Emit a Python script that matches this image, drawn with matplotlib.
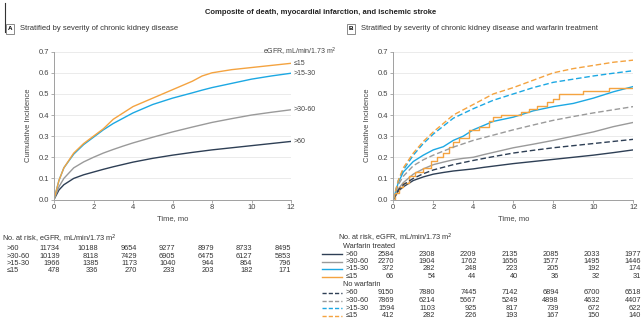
import matplotlib
matplotlib.use("Agg")
import matplotlib.pyplot as plt
from matplotlib.lines import Line2D
from matplotlib.transforms import blended_transform_factory

plt.rcParams['font.family'] = ['Liberation Sans', 'DejaVu Sans']

W, H = 642, 327

# colours per eGFR group
NAVY = "#2e3f55"
GRAY = "#9a9a9a"
BLUE = "#1ca8e3"
ORANGE = "#f4a340"

groups = [">60", ">30-60", ">15-30", "\u226415"]
group_colors = [NAVY, GRAY, BLUE, ORANGE]
risk_times = [0, 2, 4, 6, 8, 10, 12]

# Panel A curves (time in months, cumulative incidence)
a_t = [0, 0.25, 0.5, 1, 1.5, 2, 2.5, 3, 3.5, 4, 5, 6, 7, 7.5, 8, 9, 10, 11, 12]
a_gt60 = [0, 0.045, 0.07, 0.10, 0.117, 0.13, 0.143, 0.155, 0.166, 0.177, 0.195, 0.21, 0.223, 0.229, 0.235, 0.245, 0.255, 0.265, 0.275]
a_30_60 = [0, 0.06, 0.10, 0.15, 0.178, 0.20, 0.22, 0.237, 0.253, 0.268, 0.295, 0.32, 0.343, 0.354, 0.365, 0.383, 0.40, 0.413, 0.425]
a_15_30 = [0, 0.09, 0.15, 0.215, 0.26, 0.295, 0.33, 0.36, 0.385, 0.41, 0.45, 0.48, 0.505, 0.518, 0.53, 0.55, 0.57, 0.585, 0.598]
a_le15 = [0, 0.09, 0.15, 0.22, 0.265, 0.30, 0.335, 0.38, 0.41, 0.44, 0.48, 0.52, 0.56, 0.585, 0.60, 0.615, 0.625, 0.635, 0.645]

# Panel B curves, warfarin treated (solid)
b_t = [0, 0.25, 0.5, 1, 1.5, 2, 2.5, 3, 3.5, 4, 4.5, 5, 6, 7, 8, 9, 10, 11, 12]
bw_gt60 = [0, 0.04, 0.06, 0.09, 0.107, 0.12, 0.128, 0.135, 0.14, 0.145, 0.152, 0.158, 0.17, 0.18, 0.19, 0.20, 0.21, 0.222, 0.235]
bw_30_60 = [0, 0.05, 0.08, 0.12, 0.145, 0.165, 0.177, 0.188, 0.195, 0.20, 0.212, 0.223, 0.245, 0.262, 0.28, 0.30, 0.32, 0.345, 0.365]
bw_15_30 = [0, 0.08, 0.13, 0.18, 0.21, 0.235, 0.25, 0.28, 0.30, 0.33, 0.35, 0.37, 0.39, 0.42, 0.44, 0.455, 0.48, 0.51, 0.535]
# ≤15 warfarin treated: few patients, stepwise
bw_le15_t = [0, 0.1, 0.3, 0.5, 0.8, 1.1, 1.5, 1.9, 2.2, 2.5, 2.8, 3.0, 3.3, 3.8, 4.3, 4.8, 5.0, 5.4, 6.4, 6.8, 7.2, 7.7, 8.0, 8.3, 9.5, 10.8, 12]
bw_le15 = [0, 0.03, 0.06, 0.08, 0.11, 0.13, 0.15, 0.18, 0.20, 0.22, 0.25, 0.27, 0.29, 0.33, 0.345, 0.37, 0.39, 0.40, 0.415, 0.43, 0.445, 0.46, 0.475, 0.50, 0.515, 0.53, 0.53]

# Panel B curves, no warfarin (dashed)
bn_t = [0, 0.25, 0.5, 1, 1.5, 2, 3, 4, 5, 6, 7, 8, 9, 10, 11, 12]
bn_gt60 = [0, 0.045, 0.07, 0.10, 0.122, 0.14, 0.165, 0.185, 0.203, 0.22, 0.233, 0.245, 0.255, 0.265, 0.275, 0.285]
bn_30_60 = [0, 0.07, 0.11, 0.16, 0.188, 0.21, 0.248, 0.28, 0.305, 0.33, 0.353, 0.375, 0.393, 0.41, 0.425, 0.44]
bn_15_30 = [0, 0.09, 0.14, 0.21, 0.265, 0.31, 0.385, 0.43, 0.47, 0.50, 0.53, 0.555, 0.57, 0.585, 0.598, 0.61]
bn_le15 = [0, 0.09, 0.15, 0.22, 0.275, 0.32, 0.40, 0.45, 0.50, 0.53, 0.565, 0.60, 0.62, 0.635, 0.65, 0.66]

# numbers at risk
risk_a = [
    [11734, 10188, 9654, 9277, 8979, 8733, 8495],
    [10139, 8118, 7429, 6905, 6475, 6127, 5853],
    [1966, 1385, 1173, 1040, 944, 864, 796],
    [478, 336, 270, 233, 203, 182, 171],
]
risk_b_warf = [
    [2584, 2308, 2209, 2135, 2085, 2033, 1977],
    [2270, 1904, 1762, 1656, 1577, 1495, 1446],
    [372, 282, 248, 223, 205, 192, 174],
    [66, 54, 44, 40, 36, 32, 31],
]
risk_b_none = [
    [9150, 7880, 7445, 7142, 6894, 6700, 6518],
    [7869, 6214, 5667, 5249, 4898, 4632, 4407],
    [1594, 1103, 925, 817, 739, 672, 622],
    [412, 282, 226, 193, 167, 150, 140],
]


def fx(px):
    return px / W


def fy(py):
    return 1 - py / H


def style_axes(ax):
    ax.set_xlim(0, 12)
    ax.set_ylim(0, 0.7)
    ax.set_xticks(risk_times)
    ax.set_yticks([i / 10 for i in range(8)])
    ax.set_yticklabels([f"{i / 10:.1f}" for i in range(8)])
    for s in ["top", "right"]:
        ax.spines[s].set_visible(False)
    for s in ["left", "bottom"]:
        ax.spines[s].set_color("#a0a0a0")
        ax.spines[s].set_linewidth(0.7)
    ax.tick_params(length=2, width=0.6, color="#a0a0a0", labelsize=5.5,
                   labelcolor="#444444", pad=1.5)
    ax.grid(axis="y", color="#e8e8e8", linewidth=0.6)
    ax.set_axisbelow(True)
    ax.set_xlabel("Time, mo", fontsize=5.5, color="#444444", labelpad=3)
    ax.set_ylabel("Cumulative Incidence", fontsize=5.5, color="#444444", labelpad=5)


def panel_tag(x, y, letter, text):
    fig.text(fx(x), fy(y), letter, fontsize=4.5, fontweight="bold", va="center", ha="center",
             bbox=dict(boxstyle="square,pad=0.35", fc="white", ec="#777777", lw=0.6))
    fig.text(fx(x + 10), fy(y), text, fontsize=5.5, va="center", color="#333333")


fig = plt.figure(figsize=(W / 100, H / 100), dpi=100)
fig.add_artist(Line2D([fx(5), fx(5)], [fy(3), fy(32)], color="#333333", lw=0.8))

fig.text(0.5, fy(12), "Composite of death, myocardial infarction, and ischemic stroke",
         fontsize=5.5, fontweight="bold", ha="center", va="center", color="#222222")

# ---- Panel A ----
axA = fig.add_axes([fx(54), fy(199.5), fx(291) - fx(54), fy(51.7) - fy(199.5)])
style_axes(axA)
a_series = [a_gt60, a_30_60, a_15_30, a_le15]
for vals, col in zip(a_series, group_colors):
    axA.plot(a_t, vals, color=col, lw=1.0, solid_joinstyle="round")
for vals, col, lab in zip(a_series, group_colors, groups):
    axA.annotate(lab, (12, vals[-1]), xytext=(2, 0), textcoords="offset points",
                 fontsize=5, color="#444444", va="center", ha="left", annotation_clip=False)
fig.text(fx(263), fy(51.7), "eGFR, mL/min/1.73 m$^2$", fontsize=5, color="#444444", va="center")
panel_tag(10, 29, "A", "Stratified by severity of chronic kidney disease")

# ---- Panel B ----
axB = fig.add_axes([fx(393.3), fy(199.5), fx(633.3) - fx(393.3), fy(51.7) - fy(199.5)])
style_axes(axB)
for vals, col in zip([bw_gt60, bw_30_60, bw_15_30], group_colors[:3]):
    axB.plot(b_t, vals, color=col, lw=1.0)
axB.plot(bw_le15_t, bw_le15, color=ORANGE, lw=1.0, drawstyle="steps-post")
for vals, col in zip([bn_gt60, bn_30_60, bn_15_30, bn_le15], group_colors):
    axB.plot(bn_t, vals, color=col, lw=1.0, ls=(0, (4, 2)))
panel_tag(351, 29, "B", "Stratified by severity of chronic kidney disease and warfarin treatment")

# ---- At risk tables ----
tsz = 5.3
tcol = "#333333"
trA = blended_transform_factory(axA.transData, fig.transFigure)
fig.text(fx(2), fy(239), "No. at risk, eGFR, mL/min/1.73 m$^2$", fontsize=tsz, color=tcol, va="center")
for i, (lab, row) in enumerate(zip(groups, risk_a)):
    y = fy(248.5 + i * 7.5)
    fig.text(fx(7), y, lab, fontsize=tsz, color=tcol, va="center")
    for t, n in zip(risk_times, row):
        fig.text(t + 0.3 - t * 0.025, y, str(n), fontsize=tsz, color=tcol, va="center", ha="right",
                 transform=trA)

trB = blended_transform_factory(axB.transData, fig.transFigure)
fig.text(fx(338), fy(237.5), "No. at risk, eGFR, mL/min/1.73 m$^2$", fontsize=tsz, color=tcol, va="center")
fig.text(fx(343), fy(246.5), "Warfarin treated", fontsize=tsz, color=tcol, va="center")
fig.text(fx(343), fy(285), "No warfarin", fontsize=tsz, color=tcol, va="center")
for block, (y0, ls, rows) in enumerate([(254, "-", risk_b_warf), (293, (0, (3, 1.5)), risk_b_none)]):
    for i, (lab, row, col) in enumerate(zip(groups, rows, group_colors)):
        yp = y0 + i * 7.5
        y = fy(yp)
        fig.add_artist(Line2D([fx(322), fx(342)], [y, y], color=col, lw=1.0, ls=ls))
        fig.text(fx(346), y, lab, fontsize=tsz, color=tcol, va="center")
        for t, n in zip(risk_times, row):
            fig.text(t + t * 0.028 + 0.05, y, str(n), fontsize=tsz, color=tcol, va="center",
                     ha="right", transform=trB)

fig.savefig("out.png", dpi=100)
